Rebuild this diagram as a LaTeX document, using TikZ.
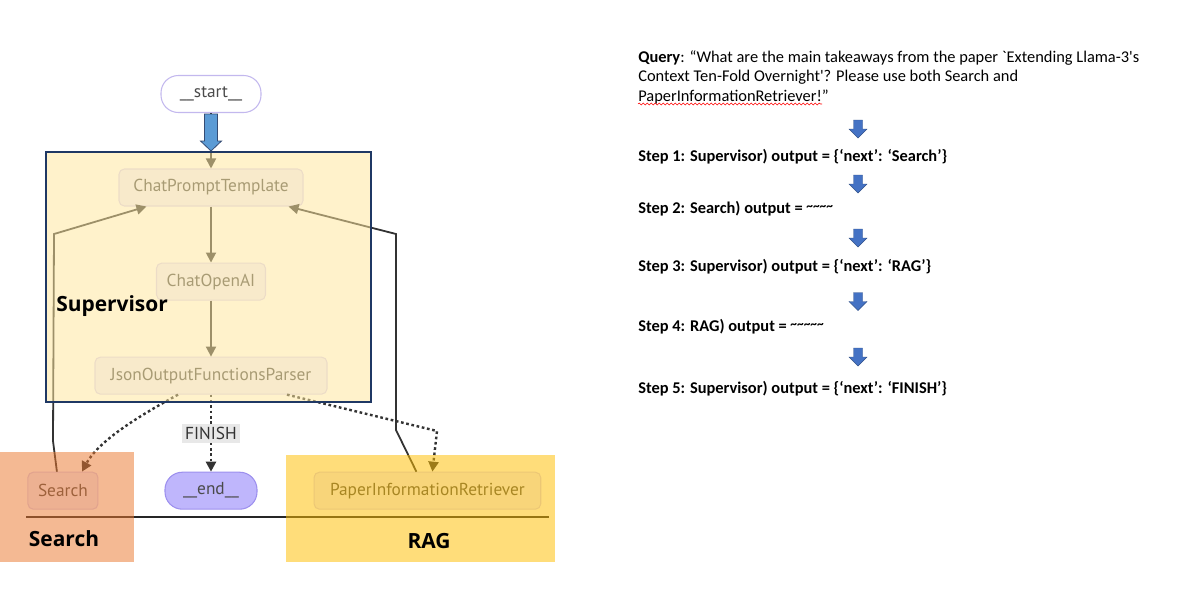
\documentclass[tikz,border=0pt]{standalone}
\usepackage{fontspec}
\setmainfont{Carlito}
\newfontfamily\graphfont{PT Sans}
\newfontfamily\labelfont{Open Sans}
\usetikzlibrary{positioning,arrows.meta,calc,decorations.pathmorphing}

\definecolor{edgegray}{HTML}{333333}
\definecolor{nodetext}{HTML}{4A4A4A}
\definecolor{nodefill}{HTML}{F2F0FF}
\definecolor{nodeline}{HTML}{D8D2F6}
\definecolor{startline}{HTML}{C3B8EE}
\definecolor{endfill}{HTML}{BFB6FC}
\definecolor{endline}{HTML}{9D90EE}
\definecolor{supfill}{RGB}{255,230,156}
\definecolor{searchfill}{RGB}{234,120,47}
\definecolor{ragfill}{RGB}{255,190,0}
\definecolor{boxnavy}{HTML}{1F3864}
\definecolor{startblue}{HTML}{5B9BD5}
\definecolor{stepblue}{HTML}{4472C4}

\begin{document}
\begin{tikzpicture}[
  x=0.75pt, y=-0.75pt,
  node distance = 42pt and 49.5pt,
  >={Triangle[length=7.5pt,width=7.5pt]},
  gnode/.style = {draw=nodeline, fill=nodefill, rounded corners=4pt, line width=0.8pt,
    minimum height=27.75pt, inner sep=0pt, text=nodetext,
    font=\graphfont\fontsize{13}{15}\selectfont},
  pill/.style = {gnode, rounded corners=13pt},
  flow/.style = {draw=edgegray, line width=1.35pt, ->},
  dotflow/.style = {flow, line width=1.8pt, dash pattern=on 2pt off 2pt},
  finish/.style = {fill=black!9, text=edgegray, inner sep=2.5pt,
    font=\graphfont\fontsize{13}{14}\selectfont},
  tint/.style = {fill=#1, fill opacity=0.52, draw=none},
  pics/blockdown/.style n args = {4}{code={
    \path[pic actions] (-#1,-#3/2) -- (#1,-#3/2) -- (#1,#3/2-#4) -- (#2,#3/2-#4)
      -- (0,#3/2) -- (-#2,#3/2-#4) -- (-#1,#3/2-#4) -- cycle;
  }},
  steptext/.style = {anchor=west, inner sep=0pt, font=\bfseries\fontsize{12.3}{14.6}\selectfont},
  grouplabel/.style = {inner sep=0pt, font=\labelfont\bfseries\fontsize{15.7}{17}\selectfont}
]
  % graph
  \node[pill, fill=white, draw=startline, minimum width=75pt] (start) at (211,94) {\_\_start\_\_};
  \node[gnode, minimum width=138pt] (prompt) at (211,187.5) {ChatPromptTemplate};
  \node[gnode, minimum width=81.75pt, below = of prompt] (openai) {ChatOpenAI};
  \node[gnode, minimum width=174pt, below = of openai] (parser) {JsonOutputFunctionsParser};
  \node[pill, fill=endfill, draw=endline, minimum width=69pt, below = 57.75pt of parser] (end) {\_\_end\_\_};
  \node[gnode, minimum width=52.5pt, left = of end] (search) {Search};
  \node[gnode, minimum width=170pt, right = 42pt of end] (rag) {PaperInformationRetriever};

  \coordinate (sbend) at (53,441);
  \coordinate (stop) at (54,234);
  \coordinate (rbend) at (396,430);
  \coordinate (rtop) at (396,234);
  \coordinate (dbend) at (437,431);

  \draw[flow] (start) -- (prompt);
  \draw[flow] (prompt) -- (openai);
  \draw[flow] (openai) -- (parser);
  \draw[dotflow] (parser) -- node[finish] (finishlbl) {FINISH} (end);
  \draw[dotflow] ($(parser.south)+(-33,0)$) .. controls (135,418) and (98,442) .. ($(search.north)+(19,0)$);
  \draw[dotflow] ($(parser.south)+(76,0)$) -- (dbend) -- ($(rag.north)+(5,0)$);
  \draw[flow] ($(search.north)+(-6,0)$) -- (sbend) -- (stop) -- ($(prompt.south west)+(28,0)$);
  \draw[flow] ($(rag.north)+(-11,0)$) -- (rbend) -- (rtop) -- ($(prompt.south east)+(-15,0)$);

  % groups
  \draw[black!85, line width=0.8pt] (26,517) -- (549,517);
  \fill[tint=supfill] (46,152) rectangle (371,402);
  \fill[tint=searchfill] (0,452) rectangle (134,562);
  \fill[tint=ragfill] (286,455) rectangle (555,562);
  \draw[boxnavy, line width=0.9pt] (46,152) rectangle (371,402);
  \pic[fill=startblue, draw=boxnavy!90, line width=0.6pt] (startarr) at (211,132.5) {blockdown={6.5}{10.5}{37}{10}};

  \node[grouplabel, anchor=west] (suplbl) at (56,306) {Supervisor};
  \node[grouplabel] (searchlbl) at (64,539) {Search};
  \node[grouplabel] (raglbl) at (429,541) {RAG};

  % steps
  \node[anchor=north west, align=left, inner sep=0pt, font=\fontsize{12.3}{14.6}\selectfont] (query) at (638,50)
    {\textbf{Query}: “What are the main takeaways from the paper \textasciigrave Extending Llama-3\textquotesingle s\\
     Context Ten-Fold Overnight\textquotesingle? Please use both Search and\\
     PaperInformationRetriever!”};
  \draw[red, line width=0.4pt, decorate, decoration={snake, amplitude=0.7pt, segment length=3pt}] (638,104) -- (822,104);

  \pic[fill=stepblue, draw=stepblue!70!black, line width=0.3pt] (arr1) at (858,129) {blockdown={4.5}{9}{18}{9}};
  \node[steptext] (step1) at (638,157) {Step 1: Supervisor) output = \{‘next’: ‘Search’\}};
  \pic[fill=stepblue, draw=stepblue!70!black, line width=0.3pt] (arr2) at (858,184) {blockdown={4.5}{9}{18}{9}};
  \node[steptext] (step2) at (638,209) {Step 2: Search) output = {\fontsize{10}{10}\selectfont\raisebox{0.55ex}{\textasciitilde\textasciitilde\textasciitilde\textasciitilde}}};
  \pic[fill=stepblue, draw=stepblue!70!black, line width=0.3pt] (arr3) at (858,238) {blockdown={4.5}{9}{18}{9}};
  \node[steptext] (step3) at (638,267) {Step 3: Supervisor) output = \{‘next’: ‘RAG’\}};
  \pic[fill=stepblue, draw=stepblue!70!black, line width=0.3pt] (arr4) at (858,301.5) {blockdown={4.5}{9}{18}{9}};
  \node[steptext] (step4) at (638,327) {Step 4: RAG) output = {\fontsize{10}{10}\selectfont\raisebox{0.55ex}{\textasciitilde\textasciitilde\textasciitilde\textasciitilde\textasciitilde}}};
  \pic[fill=stepblue, draw=stepblue!70!black, line width=0.3pt] (arr5) at (858,357) {blockdown={4.5}{9}{18}{9}};
  \node[steptext] (step5) at (638,389) {Step 5: Supervisor) output = \{‘next’: ‘FINISH’\}};

  \useasboundingbox (0,0) rectangle (1194,600);
\end{tikzpicture}
\end{document}
